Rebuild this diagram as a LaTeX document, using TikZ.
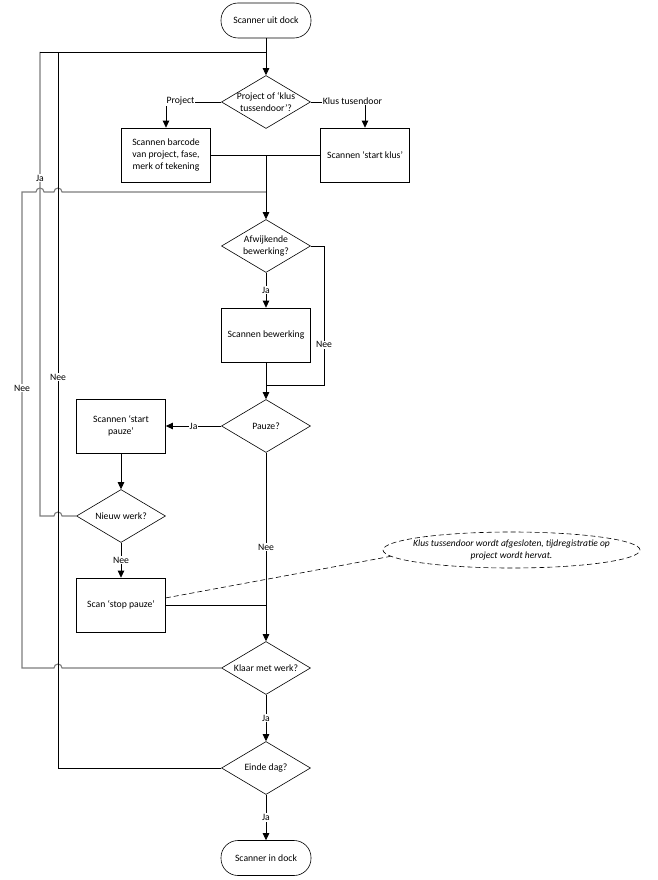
\documentclass[tikz,border=0pt]{standalone}
\usepackage{fontspec}
\setmainfont{Carlito}
\usetikzlibrary{shapes.geometric,arrows.meta}
\definecolor{gline}{RGB}{125,125,125}
\begin{document}
\begin{tikzpicture}[x=1pt,y=-1pt,
  font=\fontsize{9.7}{11.8}\selectfont,
  line width=0.8pt,
  arr/.style={-{Triangle[length=7pt,width=6.5pt]}},
  box/.style={draw,line width=0.7pt,minimum width=89pt,minimum height=54pt,align=center,inner sep=2pt},
  term/.style={draw,line width=0.6pt,rounded corners=17pt,minimum width=90pt,minimum height=35pt},
  dia/.style={draw,line width=0.6pt,diamond,minimum width=89pt,minimum height=53pt,inner sep=0pt},
  lbl/.style={fill=white,inner sep=1pt},
  gl/.style={draw=gline,line width=1.1pt},
]
\useasboundingbox (0,0) rectangle (657,880);

% nodes
\node[term] (start) at (266,20.5) {Scanner uit dock};
\node[dia,label={[align=center]center:Project of ‘klus\\tussendoor’?}] (d1) at (266,102) {};
\node[box] (b1) at (166,155) {Scannen barcode\\van project, fase,\\merk of tekening};
\node[box] (b2) at (365,155) {Scannen ‘start klus’};
\node[dia,label={[align=center]center:Afwijkende\\bewerking?}] (d2) at (266,246) {};
\node[box] (b3) at (266,335) {Scannen bewerking};
\node[dia,label={[align=center]center:Pauze?}] (d3) at (266,426) {};
\node[box] (b4) at (121,426) {Scannen ‘start\\pauze’};
\node[dia,label={[align=center]center:Nieuw werk?}] (d4) at (121,516) {};
\node[box] (b5) at (121,605) {Scan ‘stop pauze’};
\node[dia,label={[align=center]center:Klaar met werk?}] (d5) at (266,668) {};
\node[dia,label={[align=center]center:Einde dag?}] (d6) at (266,768) {};
\node[term] (end) at (266,858) {Scanner in dock};
\node[draw,dash pattern=on 5pt off 3pt,line width=0.6pt,ellipse,minimum width=257pt,minimum height=36pt,inner sep=0pt,
  label={[align=center,font=\fontsize{9.5}{11.5}\selectfont\itshape]center:Klus tussendoor wordt afgesloten, tijdregistratie op\\project wordt hervat.}] (note) at (511.5,550) {};

\coordinate (m1) at (266,155);
\coordinate (m2) at (266,192);
\coordinate (m0) at (266,52);
\coordinate (m3) at (266,385);

% gray loop: Klaar met werk? -> Nee
\draw[gl] (d5.west) -- (62,668) arc[start angle=0,end angle=180,radius=4pt] -- (22,668)
  -- node[lbl,pos=0.588,text=black]{Nee} (22,192) -- (36,192) arc[start angle=180,end angle=0,radius=4pt]
  -- (54,192) arc[start angle=180,end angle=0,radius=4pt] -- (m2);
% gray loop: Nieuw werk? -> Ja
\draw[gl] (d4.west) -- (62,516) arc[start angle=0,end angle=180,radius=4pt] -- (40,516)
  -- node[lbl,pos=0.728,text=black]{Ja} (40,52);
% black loop: Einde dag? -> Nee
\draw (d6.west) -- (58,768) -- node[lbl,pos=0.546]{Nee} (58,52) -- (m0);
\draw (40,52) -- (58,52);

% main flow
\draw[arr] (start.south) -- (d1.north);
\draw[arr] (d1.west) -| (b1.north);
\node[lbl] at (180.5,101) {Project};
\draw[arr] (d1.east) -| (b2.north);
\node[lbl] at (352.5,101) {Klus tusendoor};
\draw (b1.east) -- (b2.west);
\draw[arr] (m1) -- (d2.north);
\draw[arr] (d2.south) -- node[lbl]{Ja} (b3.north);
\draw (d2.east) -- (324,246) -- node[lbl,pos=0.71]{Nee} (324,385) -- (m3);
\draw[arr] (b3.south) -- (d3.north);
\draw[arr] (d3.west) -- node[lbl]{Ja} (b4.east);
\draw[arr] (b4.south) -- (d4.north);
\draw[arr] (d4.south) -- node[lbl]{Nee} (b5.north);
\draw[arr] (d3.south) -- node[lbl]{Nee} (d5.north);
\draw (b5.east) -- (b5.east -| d5.north);
\draw[arr] (d5.south) -- node[lbl]{Ja} (d6.north);
\draw[arr] (d6.south) -- node[lbl]{Ja} (end.north);
\draw[dash pattern=on 5pt off 3pt,line width=0.6pt] (b5.9) -- (note.183);
\end{tikzpicture}
\end{document}
